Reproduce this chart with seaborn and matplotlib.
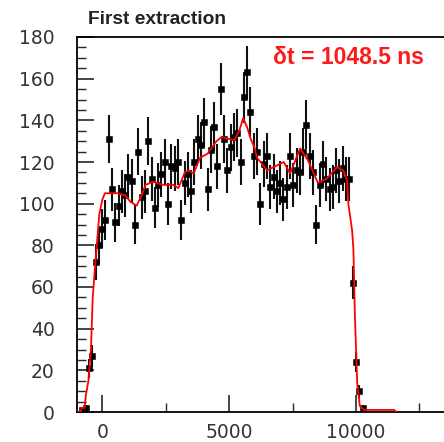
import numpy as np
import pandas as pd
import matplotlib
matplotlib.use("Agg")
import matplotlib.pyplot as plt
import seaborn as sns
from matplotlib.ticker import MultipleLocator

# Histogram bin centres (ns) and counts
time_ns = [-790, -660, -530, -400, -270, -140, -10, 120, 250, 380,
           510, 640, 770, 900, 1030, 1160, 1290, 1420, 1550, 1680,
           1810, 1940, 2070, 2200, 2330, 2460, 2590, 2720, 2850, 2980,
           3110, 3240, 3370, 3500, 3630, 3760, 3890, 4020, 4150, 4280,
           4410, 4540, 4670, 4800, 4930, 5060, 5190, 5320, 5450, 5580,
           5710, 5840, 5970, 6100, 6230, 6360, 6490, 6620, 6750, 6880,
           7010, 7140, 7270, 7400, 7530, 7660, 7790, 7920, 8050, 8180,
           8310, 8440, 8570, 8700, 8830, 8960, 9090, 9220, 9350, 9480,
           9610, 9740, 9870, 10000, 10130, 10260]
counts = [1, 2, 21, 27, 72, 80, 88, 92, 131, 107,
          91, 99, 106, 104, 113, 111, 90, 125, 103, 106,
          130, 112, 98, 109, 114, 120, 100, 118, 117, 120,
          92, 110, 114, 106, 120, 131, 128, 139, 107, 126,
          137, 118, 155, 131, 116, 127, 132, 134, 120, 151,
          163, 144, 123, 125, 100, 119, 123, 108, 113, 106,
          110, 102, 108, 123, 109, 116, 115, 125, 138, 123,
          115, 90, 109, 119, 112, 107, 108, 116, 111, 117,
          112, 112, 62, 24, 10, 2]

# red model curve
model_t = [-1000, -850, -820, -700, -650, -550, -450, -380, -300, -220,
           -120, 0, 100, 300, 600, 900, 1100, 1350, 1550, 1700,
           2000, 2400, 2800, 3000, 3250, 3400, 3600, 3850, 4150, 4500,
           4700, 5000, 5200, 5400, 5550, 5700, 5850, 6000, 6100, 6500,
           6750, 7150, 7400, 7800, 8100, 8500, 8850, 9250, 9500, 9650,
           9700, 9850, 9900, 9960, 10050, 10150, 10300, 10800, 11500, 11600]
model_y = [0, 0, 2, 2, 8, 15, 30, 55, 68, 80,
           95, 102, 105, 105, 105, 104, 101, 99, 104, 109,
           110.5, 109, 109, 107.5, 115, 116, 114.5, 122, 124, 130,
           132, 131, 130.5, 135, 141, 137, 131, 127, 122, 116,
           117.5, 120, 114.5, 126.5, 121, 110, 112, 117.5, 116, 111,
           100, 87, 78, 46, 14, 3, 1, 1, 1, 0]

title = "First extraction"
label = "\u03b4t = 1048.5 ns"

sns.set_style("ticks")
plt.rcParams['font.family'] = ['DejaVu Sans']

hist = pd.DataFrame({'t': time_ns, 'n': counts})
hist['err'] = np.sqrt(hist['n'])
model = pd.DataFrame({'t': model_t, 'y': model_y})

fig = plt.figure(figsize=(4.44, 4.42), dpi=100)
ax = fig.add_axes([77 / 444, 30 / 442, 367.7 / 444, 375 / 442])

ax.vlines(hist['t'], hist['n'] - hist['err'], hist['n'] + hist['err'],
          color='#111111', lw=1.5, zorder=2)
sns.scatterplot(data=hist, x='t', y='n', ax=ax, marker='s', s=14,
                color='black', edgecolor='black', linewidth=0.4, zorder=3)
sns.lineplot(data=model, x='t', y='y', ax=ax, color='red', lw=1.3,
             sort=False, zorder=4)

ax.set_xlim(-1000, 13500)
ax.set_ylim(0, 180)
ax.set_xlabel('')
ax.set_ylabel('')

ax.xaxis.set_major_locator(MultipleLocator(5000))
ax.xaxis.set_minor_locator(MultipleLocator(2500))
ax.yaxis.set_major_locator(MultipleLocator(20))
ax.yaxis.set_minor_locator(MultipleLocator(5))
ax.tick_params(axis='both', which='major', direction='in', length=12.5,
               width=1.2, labelsize=13.5, labelcolor='#333333')
ax.tick_params(axis='both', which='minor', direction='in', length=6.5,
               width=1.0)
ax.tick_params(axis='x', which='major', pad=8)
ax.tick_params(axis='y', which='major', pad=16)
ax.tick_params(top=False, right=False, which='both')

for side in ['left', 'bottom', 'top']:
    ax.spines[side].set_linewidth(1.3)
    ax.spines[side].set_color('black')
ax.spines['right'].set_visible(False)

fig.text(88 / 444, 1 - 20 / 442, title, fontsize=13.8, fontweight='bold',
         family=['Liberation Sans', 'DejaVu Sans'], color='#222222',
         va='center', ha='left')
ax.text(0.534, 0.946, label, transform=ax.transAxes, fontsize=16.5,
        fontweight='bold', family=['Liberation Sans', 'DejaVu Sans'],
        color='#ff1a1a', va='center', ha='left')

fig.savefig('out.png', dpi=100)
